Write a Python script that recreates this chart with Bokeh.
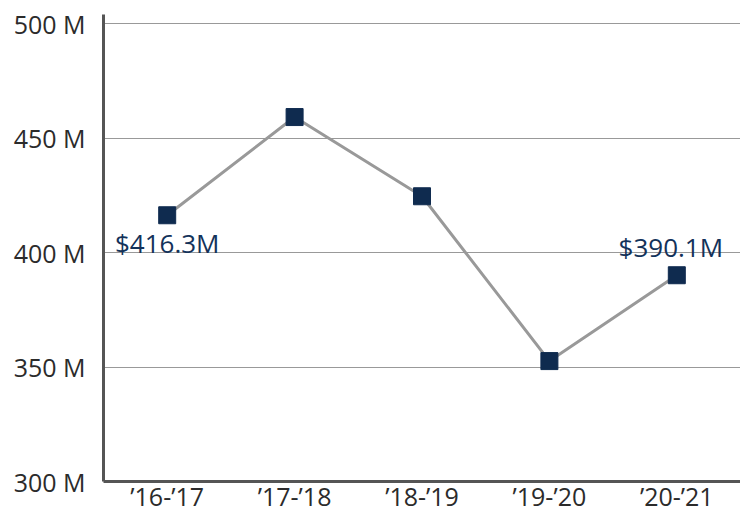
from bokeh.plotting import figure
from bokeh.models import FactorRange, Range1d, FixedTicker, ColumnDataSource
from bokeh.core.properties import value
from bokeh.embed import file_html
from bokeh.resources import INLINE

categories = ["\u201916-\u201917", "\u201917-\u201918", "\u201918-\u201919", "\u201919-\u201920", "\u201920-\u201921"]
values_m = [416.3, 459.2, 424.6, 352.6, 390.1]
y_ticks = [300, 350, 400, 450, 500]
y_tick_labels = ["300 M", "350 M", "400 M", "450 M", "500 M"]
label_cats = ["\u201916-\u201917", "\u201920-\u201921"]
label_values = [416.3, 390.1]
label_texts = ["$416.3M", "$390.1M"]

FONT = "Open Sans"

p = figure(x_range=FactorRange(*categories, range_padding=0),
           y_range=Range1d(300, 504),
           width=740, height=515, output_backend="svg", toolbar_location=None,
           min_border_left=103, min_border_right=0, min_border_top=14, min_border_bottom=0)
p.outline_line_color = None
p.background_fill_color = "white"

p.xgrid.grid_line_color = None
p.ygrid.grid_line_color = "#999999"
p.ygrid.grid_line_width = 1

p.yaxis.ticker = FixedTicker(ticks=y_ticks)
p.yaxis.major_label_overrides = {t: l for t, l in zip(y_ticks, y_tick_labels)}
for ax in (p.xaxis, p.yaxis):
    ax.axis_line_color = "#555555"
    ax.axis_line_width = 3
    ax.major_tick_line_color = None
    ax.minor_tick_line_color = None
    ax.major_label_text_font = FONT
    ax.major_label_text_font_size = "25px"
    ax.major_label_text_color = "#2b2b2b"
p.yaxis.major_label_standoff = 12
p.xaxis.major_label_standoff = -9

p.line(categories, values_m, line_color="#999999", line_width=3)
p.scatter(categories, values_m, marker="square", size=17, color="#0f2b4f")

x_offsets = [0, -6]
y_offsets = [28, -28]
src = ColumnDataSource(dict(x=label_cats, y=label_values, t=label_texts, xo=x_offsets, yo=y_offsets))
p.text(x="x", y="y", text="t", source=src, y_offset="yo", x_offset="xo",
       text_align="center", text_baseline="middle",
       text_font=value(FONT), text_font_size="26px", text_color="#13325a")

open("out.html", "w").write(file_html(p, INLINE))
